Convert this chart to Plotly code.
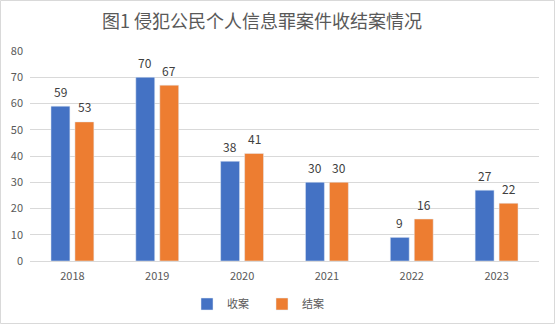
import plotly.graph_objects as go

years = ["2018", "2019", "2020", "2021", "2022", "2023"]
received = [59, 70, 38, 30, 9, 27]
closed = [53, 67, 41, 30, 16, 22]
series_names = ["收案", "结案"]
colors = ["#4472C4", "#ED7D31"]
title_text = "图1 侵犯公民个人信息罪案件收结案情况"

W, H = 555, 324
L, R, T, B = 30, 16, 51, 63
pw, ph = W - L - R, H - T - B
BARGAP, BARGROUPGAP = 0.435, 0.21
CENTER_X = (262 - L) / pw

font_family = "Noto Sans CJK SC, Microsoft YaHei, sans-serif"

fig = go.Figure()
for name, vals, col in zip(series_names, [received, closed], colors):
    fig.add_trace(go.Bar(x=years, y=vals, name=name, marker_color=col))

fig.update_layout(
    width=W, height=H,
    margin=dict(l=L, r=R, t=T, b=B, autoexpand=False),
    paper_bgcolor="white", plot_bgcolor="white",
    font=dict(family=font_family, color="#595959", size=11),
    title=dict(text=title_text, x=262 / W, xanchor="center", y=1 - 22 / H, yanchor="middle",
               font=dict(size=18, color="#595959", family=font_family)),
    barmode="group", bargap=BARGAP, bargroupgap=BARGROUPGAP,
    legend=dict(orientation="h", x=CENTER_X, xanchor="center", y=(261 - 304) / ph,
                yanchor="middle", font=dict(size=11, color="#595959"),
                itemwidth=30, entrywidth=30, traceorder="normal"),
    showlegend=True,
)
fig.update_yaxes(range=[0, 80], dtick=10, showgrid=True, gridcolor="#d9d9d9", gridwidth=1,
                 zeroline=False, showline=False, ticks="", tickfont=dict(size=11, color="#595959"),
                 ticklabelstandoff=6)
fig.update_xaxes(type="category", showline=True, linecolor="#d9d9d9", linewidth=1, ticks="",
                 tickfont=dict(size=11, color="#595959"), ticklabelstandoff=5)

# data labels placed above each bar (category axis: x given as category serial number)
cat_w = pw / len(years)
offset = cat_w * (1 - BARGAP) / 4
for k, vals in enumerate([received, closed]):
    shift = -offset if k == 0 else offset
    for i, v in enumerate(vals):
        fig.add_annotation(x=i, y=v, xref="x", yref="y", text=str(v), showarrow=False,
                           xshift=shift, yshift=15, yanchor="middle",
                           font=dict(size=12, color="#404040", family=font_family))

# chart area border
fig.add_shape(type="rect", xref="paper", yref="paper",
              x0=(0.5 - L) / pw, x1=(W - 0.5 - L) / pw,
              y0=-(B - 0.5) / ph, y1=(H - 0.5 - B) / ph,
              line=dict(color="#d9d9d9", width=1), fillcolor="rgba(0,0,0,0)", layer="below")

fig.write_html("out.html")
